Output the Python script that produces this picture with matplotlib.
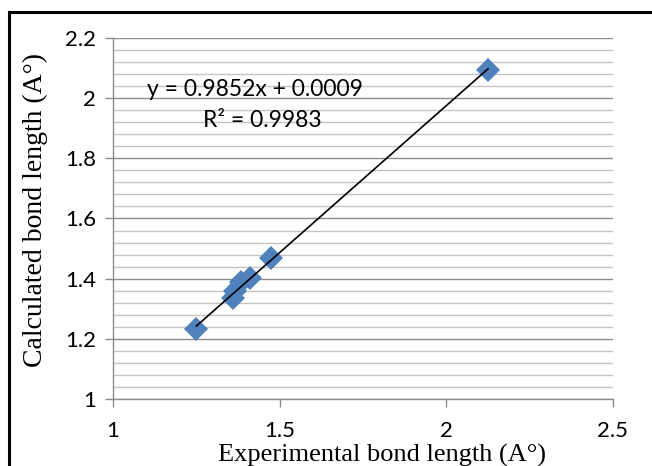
import numpy as np
import matplotlib.pyplot as plt
from matplotlib.patches import Rectangle
from matplotlib.ticker import MultipleLocator

# Data
x_exp = np.array([1.25, 1.36, 1.365, 1.385, 1.41, 1.475, 2.125])
y_calc = np.array([1.232, 1.335, 1.358, 1.388, 1.403, 1.470, 2.094])
x_ticks = [1, 1.5, 2, 2.5]
y_ticks = [1, 1.2, 1.4, 1.6, 1.8, 2, 2.2]
eq_text = 'y = 0.9852x + 0.0009'
r2_text = 'R² = 0.9983'

fig = plt.figure(figsize=(6.52, 4.66), dpi=100)
ax = fig.add_axes([113/652, 1 - 399/466, 500/652, 361/466])

# outer chart border (runs off right and bottom edges)
fig.patches.append(Rectangle((9/652, -0.1), 1.2, 1 - 12/466 + 0.1,
                             transform=fig.transFigure, fill=False,
                             edgecolor='black', linewidth=2.2))

ax.plot(x_exp, y_calc, 'D', color='#4F81BD', markersize=12, markeredgewidth=0, zorder=3)

# linear trendline
k, b = np.polyfit(x_exp, y_calc, 1)
xt = np.array([x_exp.min(), x_exp.max()])
ax.plot(xt, k * xt + b, color='black', linewidth=1.2, zorder=4)

ax.set_xlim(1, 2.5)
ax.set_ylim(1, 2.2)
ax.set_xticks(x_ticks)
ax.set_xticklabels(['1', '1.5', '2', '2.5'])
ax.set_yticks(y_ticks)
ax.set_yticklabels(['1', '1.2', '1.4', '1.6', '1.8', '2', '2.2'])
ax.yaxis.set_minor_locator(MultipleLocator(0.04))

ax.grid(True, which='major', axis='y', color='#8c8c8c', linewidth=1.0)
ax.grid(True, which='minor', axis='y', color='#c4c4c4', linewidth=1.0)
ax.set_axisbelow(True)

for s in ['top', 'right']:
    ax.spines[s].set_visible(False)
for s in ['left', 'bottom']:
    ax.spines[s].set_color('#8c8c8c')
    ax.spines[s].set_linewidth(1.0)

ax.tick_params(which='major', direction='out', length=6, width=1, color='#8c8c8c',
               labelsize=16)
ax.tick_params(axis='x', pad=10)
ax.tick_params(axis='y', pad=6)
ax.tick_params(which='minor', length=0)
for lab in ax.get_xticklabels() + ax.get_yticklabels():
    lab.set_family('Lato')

ax.set_xlabel('Experimental bond length (A°)', family='Liberation Serif', fontsize=19, va='center')
ax.xaxis.set_label_coords(0.537, -0.155)
ax.set_ylabel('Calculated bond length (A°)', family='Liberation Serif', fontsize=20, va='center')
ax.yaxis.set_label_coords(-0.155, 0.524)

ax.text(1.426, 2.03, eq_text, family='Lato', fontsize=16.5, ha='center', va='center')
ax.text(1.447, 1.927, r2_text, family='Lato', fontsize=16.5, ha='center', va='center')

fig.savefig('out.png', dpi=100)
